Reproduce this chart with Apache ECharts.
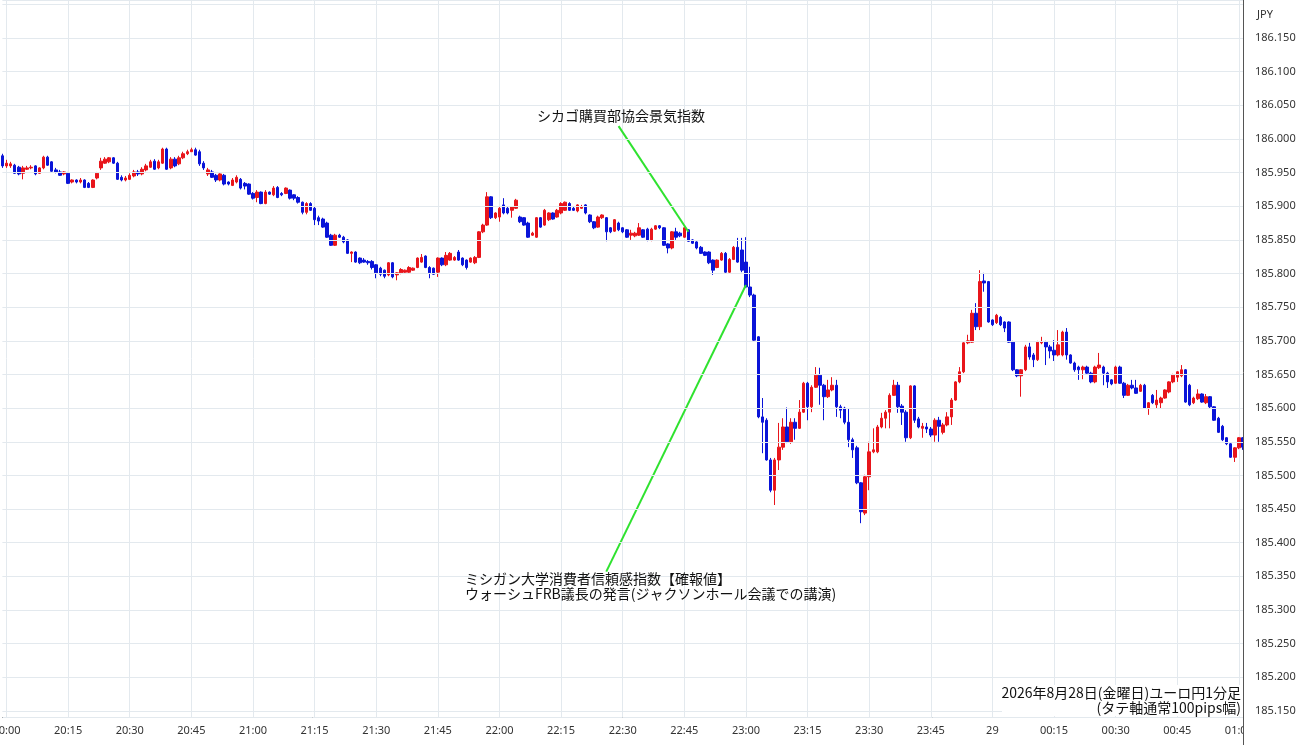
<!DOCTYPE html>
<html><head><meta charset="utf-8">
<script src="https://cdn.jsdelivr.net/npm/echarts@6/dist/echarts.min.js"></script>
<style>html,body{margin:0;padding:0;background:#fff}#c{width:1300px;height:745px}</style>
</head><body><div id="c"></div>
<script>
// 1-minute EUR/JPY candles, first candle 19:59
const startTime = '19:59';
const opens = [185.975,185.960,185.960,185.961,185.958,185.949,185.955,185.957,185.960,185.949,185.957,185.973,185.966,185.954,185.951,185.948,185.949,185.936,185.939,185.936,185.939,185.934,185.928,185.942,185.957,185.964,185.966,185.972,185.964,185.943,185.939,185.940,185.945,185.951,185.948,185.954,185.958,185.967,185.957,185.964,185.985,185.957,185.970,185.963,185.972,185.978,185.981,185.984,185.981,185.964,185.948,185.951,185.946,185.939,185.946,185.936,185.931,185.936,185.940,185.934,185.933,185.919,185.913,185.921,185.904,185.921,185.917,185.928,185.919,185.919,185.924,185.917,185.913,185.906,185.891,185.904,185.897,185.883,185.881,185.875,185.857,185.842,185.857,185.854,185.850,185.830,185.832,185.823,185.820,185.818,185.818,185.813,185.808,185.805,185.798,185.816,185.798,185.801,185.802,185.802,185.805,185.809,185.817,185.826,185.809,185.808,185.802,185.823,185.813,185.820,185.820,185.832,185.823,185.820,185.817,185.816,185.824,185.862,185.872,185.914,185.883,185.884,185.902,185.897,185.894,185.897,185.884,185.883,185.875,185.857,185.854,185.883,185.872,185.880,185.890,185.884,185.890,185.894,185.904,185.897,185.893,185.897,185.902,185.887,185.877,185.869,185.883,185.883,185.868,185.863,185.875,185.868,185.865,185.857,185.856,185.857,185.865,185.866,185.850,185.866,185.871,185.868,185.844,185.838,185.862,185.860,185.854,185.865,185.850,185.847,185.839,185.832,185.832,185.820,185.809,185.820,185.830,185.802,185.821,185.839,185.835,185.817,185.780,185.768,185.706,185.587,185.582,185.523,185.478,185.523,185.542,185.572,185.550,185.579,185.570,185.594,185.637,185.602,185.631,185.649,185.634,185.617,185.627,185.634,185.602,185.600,185.579,185.553,185.541,185.489,185.444,185.498,185.535,185.535,185.572,185.585,185.594,185.619,185.634,185.603,185.594,185.556,185.633,185.584,185.570,185.572,185.569,185.560,185.582,185.564,185.575,185.587,185.612,185.639,185.654,185.697,185.698,185.741,185.721,185.789,185.788,185.731,185.727,185.735,185.728,185.728,185.698,185.657,185.648,185.657,185.691,185.679,185.672,185.697,185.698,185.691,185.686,185.679,185.679,185.713,185.679,185.667,185.661,185.657,185.661,185.652,185.639,185.660,185.661,185.652,185.642,185.637,185.661,185.637,185.619,185.634,185.630,185.625,185.634,185.600,185.619,185.605,185.608,185.615,185.624,185.639,185.646,185.648,185.657,185.634,185.608,185.614,185.621,185.608,185.617,185.602,185.585,185.573,185.556,185.547,185.527,185.541,185.556];
const closes = [185.960,185.964,185.963,185.949,185.948,185.957,185.957,185.958,185.948,185.957,185.973,185.961,185.952,185.951,185.946,185.951,185.934,185.939,185.936,185.939,185.928,185.928,185.939,185.949,185.967,185.970,185.972,185.964,185.940,185.939,185.942,185.946,185.951,185.948,185.955,185.960,185.966,185.955,185.966,185.985,185.955,185.970,185.960,185.972,185.978,185.981,185.984,185.976,185.963,185.957,185.954,185.943,185.939,185.948,185.933,185.933,185.939,185.943,185.927,185.930,185.918,185.912,185.921,185.904,185.921,185.918,185.927,185.913,185.917,185.927,185.912,185.912,185.906,185.891,185.904,185.894,185.880,185.878,185.869,185.854,185.842,185.857,185.854,185.847,185.830,185.832,185.817,185.816,185.817,185.816,185.809,185.801,185.799,185.796,185.816,185.795,185.801,185.806,185.805,185.809,185.808,185.823,185.824,185.809,185.801,185.799,185.823,185.813,185.827,185.830,185.824,185.820,185.813,185.809,185.823,185.824,185.862,185.872,185.914,185.883,185.890,185.897,185.890,185.890,185.899,185.909,185.877,185.872,185.854,185.860,185.883,185.869,185.894,185.890,185.881,185.894,185.904,185.906,185.894,185.894,185.902,185.899,185.890,185.877,185.868,185.884,185.887,185.862,185.862,185.880,185.865,185.862,185.854,185.860,185.860,185.868,185.854,185.850,185.866,185.871,185.868,185.842,185.838,185.862,185.854,185.856,185.868,185.848,185.845,185.838,185.830,185.827,185.816,185.805,185.820,185.830,185.802,185.821,185.839,185.817,185.805,185.780,185.768,185.701,185.587,185.579,185.523,185.478,185.523,185.542,185.572,185.550,185.579,185.570,185.594,185.637,185.602,185.631,185.649,185.634,185.617,185.627,185.634,185.602,185.597,185.579,185.553,185.538,185.489,185.446,185.498,185.535,185.538,185.572,185.585,185.594,185.619,185.634,185.602,185.594,185.556,185.633,185.582,185.572,185.573,185.569,185.560,185.582,185.573,185.575,185.587,185.612,185.639,185.654,185.697,185.700,185.741,185.721,185.788,185.786,185.728,185.724,185.738,185.724,185.719,185.698,185.657,185.648,185.657,185.691,185.676,185.672,185.698,185.698,185.691,185.685,185.679,185.694,185.713,185.679,185.667,185.657,185.657,185.661,185.652,185.639,185.661,185.664,185.652,185.639,185.636,185.661,185.637,185.619,185.634,185.630,185.622,185.634,185.600,185.608,185.608,185.612,185.615,185.627,185.639,185.649,185.654,185.657,185.609,185.605,185.615,185.621,185.609,185.617,185.602,185.582,185.564,185.553,185.547,185.527,185.541,185.556,185.542];
const lows = [185.957,185.957,185.957,185.948,185.946,185.940,185.954,185.955,185.946,185.948,185.955,185.960,185.951,185.949,185.945,185.946,185.933,185.934,185.934,185.934,185.927,185.927,185.927,185.940,185.954,185.963,185.964,185.963,185.939,185.937,185.937,185.939,185.943,185.945,185.946,185.952,185.957,185.954,185.955,185.963,185.954,185.955,185.958,185.961,185.970,185.976,185.981,185.975,185.960,185.954,185.945,185.942,185.936,185.937,185.931,185.931,185.930,185.934,185.925,185.925,185.917,185.910,185.906,185.903,185.903,185.917,185.915,185.912,185.915,185.918,185.910,185.909,185.904,185.888,185.888,185.893,185.872,185.872,185.868,185.853,185.841,185.841,185.853,185.845,185.829,185.817,185.816,185.814,185.816,185.813,185.806,185.793,185.796,185.793,185.796,185.793,185.790,185.799,185.801,185.801,185.804,185.808,185.816,185.808,185.793,185.798,185.795,185.811,185.811,185.819,185.819,185.819,185.811,185.806,185.816,185.814,185.823,185.860,185.871,185.881,185.881,185.877,185.888,185.888,185.883,185.896,185.875,185.871,185.853,185.856,185.853,185.868,185.871,185.878,185.880,185.883,185.888,185.893,185.893,185.893,185.891,185.896,185.888,185.875,185.866,185.868,185.881,185.848,185.860,185.862,185.863,185.860,185.853,185.850,185.854,185.856,185.853,185.848,185.848,185.865,185.866,185.841,185.830,185.836,185.850,185.854,185.853,185.847,185.844,185.836,185.829,185.826,185.814,185.798,185.808,185.819,185.801,185.801,185.820,185.816,185.802,185.779,185.765,185.700,185.585,185.533,185.522,185.475,185.456,185.508,185.538,185.548,185.547,185.553,185.569,185.593,185.582,185.594,185.630,185.605,185.582,185.615,185.625,185.587,185.585,185.576,185.542,185.526,185.487,185.429,185.441,185.478,185.533,185.533,185.570,185.570,185.570,185.618,185.593,185.575,185.550,185.554,185.578,185.570,185.556,185.563,185.557,185.550,185.550,185.561,185.573,185.575,185.611,185.637,185.652,185.695,185.697,185.716,185.716,185.773,185.727,185.722,185.725,185.722,185.713,185.697,185.655,185.646,185.617,185.655,185.672,185.661,185.670,185.695,185.664,185.674,185.670,185.677,185.677,185.672,185.666,185.654,185.642,185.643,185.651,185.637,185.637,185.658,185.634,185.630,185.634,185.636,185.636,185.615,185.618,185.628,185.621,185.624,185.599,185.590,185.606,185.600,185.600,185.614,185.622,185.637,185.639,185.646,185.608,185.603,185.606,185.612,185.608,185.606,185.599,185.581,185.563,185.551,185.545,185.526,185.520,185.539,185.538];
const highs = [185.978,185.969,185.966,185.963,185.960,185.960,185.960,185.961,185.961,185.958,185.975,185.975,185.967,185.957,185.954,185.952,185.951,185.940,185.940,185.942,185.940,185.936,185.940,185.951,185.972,185.973,185.973,185.973,185.966,185.946,185.945,185.949,185.954,185.954,185.958,185.963,185.969,185.970,185.969,185.987,185.987,185.973,185.973,185.975,185.981,185.984,185.987,185.987,185.984,185.967,185.957,185.954,185.948,185.949,185.948,185.937,185.942,185.946,185.942,185.936,185.934,185.921,185.924,185.922,185.924,185.922,185.930,185.930,185.921,185.928,185.925,185.918,185.915,185.907,185.906,185.906,185.899,185.886,185.883,185.877,185.859,185.859,185.859,185.856,185.851,185.833,185.833,185.824,185.823,185.820,185.820,185.814,185.810,185.806,185.817,185.817,185.802,185.808,185.806,185.811,185.809,185.824,185.829,185.827,185.811,185.809,185.824,185.824,185.832,185.832,185.826,185.835,185.824,185.821,185.824,185.826,185.863,185.874,185.921,185.915,185.891,185.899,185.912,185.899,185.900,185.911,185.886,185.884,185.877,185.862,185.884,185.884,185.896,185.891,185.891,185.896,185.906,185.907,185.906,185.899,185.903,185.902,185.903,185.888,185.878,185.886,185.888,185.884,185.869,185.881,185.877,185.869,185.866,185.865,185.862,185.875,185.866,185.868,185.868,185.872,185.872,185.869,185.845,185.863,185.868,185.862,185.869,185.866,185.851,185.848,185.841,185.833,185.833,185.821,185.821,185.832,185.832,185.823,185.841,185.853,185.853,185.854,185.810,185.770,185.707,185.615,185.585,185.526,185.526,185.578,185.585,185.601,185.585,185.585,185.612,185.639,185.639,185.634,185.661,185.660,185.636,185.642,185.646,185.642,185.605,185.602,185.600,185.556,185.544,185.490,185.501,185.550,185.570,185.575,185.593,185.597,185.622,185.642,185.639,185.606,185.597,185.634,185.634,185.587,185.578,185.578,185.572,185.585,185.587,185.578,185.594,185.615,185.640,185.661,185.698,185.709,185.746,185.756,185.805,185.801,185.789,185.732,185.740,185.737,185.729,185.729,185.700,185.658,185.658,185.694,185.697,185.682,185.700,185.706,185.700,185.694,185.701,185.716,185.715,185.719,185.680,185.669,185.663,185.663,185.663,185.654,185.663,185.682,185.663,185.654,185.643,185.663,185.663,185.639,185.636,185.642,185.642,185.636,185.636,185.609,185.621,185.627,185.617,185.628,185.640,185.651,185.655,185.664,185.658,185.636,185.617,185.628,185.622,185.621,185.618,185.603,185.587,185.575,185.557,185.548,185.542,185.557,185.557];

const tickTimes  = ['20:00','20:15','20:30','20:45','21:00','21:15','21:30','21:45','22:00','22:15','22:30','22:45','23:00','23:15','23:30','23:45','00:00','00:15','00:30','00:45','01:00'];
const tickLabels = ['20:00','20:15','20:30','20:45','21:00','21:15','21:30','21:45','22:00','22:15','22:30','22:45','23:00','23:15','23:30','23:45','29','00:15','00:30','00:45','01:00'];
const yMin = 185.141, yMax = 186.2065;
const yLabelFirst = 185.150, yLabelLast = 186.150;

// annotation leader lines: [category index, price]
const leader1 = [[150.4, 186.019], [166.5, 185.862]];
const leader2 = [[146.7, 185.357], [180.8, 185.783]];
const note1 = 'シカゴ購買部協会景気指数';
const note2 = ['ミシガン大学消費者信頼感指数【確報値】', 'ウォーシュFRB議長の発言(ジャクソンホール会議での講演)'];
const caption = ['2026年8月28日(金曜日)ユーロ円1分足', '(タテ軸通常100pips幅)'];
const unitLabel = 'JPY';

// build categories
const times = [];
{
  const [h0, m0] = startTime.split(':').map(Number);
  for (let i = 0; i < opens.length; i++) {
    const t = (h0 * 60 + m0 + i) % 1440;
    times.push(String(Math.floor(t / 60)).padStart(2, '0') + ':' + String(t % 60).padStart(2, '0'));
  }
}
const candles = opens.map((o, i) => [o, closes[i], lows[i], highs[i]]);
const tickSet = new Set(tickTimes);
const labelOf = {};
tickTimes.forEach((t, i) => labelOf[t] = tickLabels[i]);

const RED = '#e8151b', BLUE = '#0a14d8';
const GRID = '#e3e9ee';
const AXIS = '#555';
const FONT = '"Noto Sans CJK JP", "Noto Sans", sans-serif';

const chart = echarts.init(document.getElementById('c'), null, {renderer: 'canvas'});
chart.setOption({
  animation: false,
  backgroundColor: '#fff',
  grid: {left: 2.4, right: 57, top: 0, bottom: 28, containLabel: false, outerBoundsMode: 'none'},
  xAxis: {
    type: 'category', data: times, boundaryGap: false, z: 1,
    axisLine: {show: true, lineStyle: {color: AXIS, width: 1}},
    axisTick: {show: false},
    axisLabel: {
      interval: (i, v) => tickSet.has(v),
      formatter: v => labelOf[v] || '',
      color: '#333', fontSize: 11, fontFamily: '"Noto Sans", sans-serif', margin: 8
    },
    splitLine: {show: true, interval: (i, v) => tickSet.has(v), lineStyle: {color: GRID, width: 1}}
  },
  yAxis: {
    type: 'value', position: 'right', min: yMin, max: yMax, splitNumber: 21, z: 10,
    axisLine: {show: false}, axisTick: {show: false},
    axisLabel: {
      color: '#333', fontSize: 11, fontFamily: '"Noto Sans", sans-serif', margin: 12, align: 'left',
      formatter: v => {
        const r = Math.round(v * 20) / 20;
        if (Math.abs(r - v) > 1e-6 || r < yLabelFirst - 1e-6 || r > yLabelLast + 1e-6) return '';
        return r.toFixed(3);
      }
    },
    splitLine: {show: true, lineStyle: {color: GRID, width: 1}}
  },
  series: [{
    type: 'candlestick',
    data: candles,
    barWidth: 3,
    itemStyle: {color: RED, color0: BLUE, borderColor: RED, borderColor0: BLUE, borderWidth: 1},
    markLine: {
      silent: true, symbol: ['none', 'none'], animation: false,
      label: {show: false},
      lineStyle: {color: '#2fe22f', width: 2, type: 'solid'},
      emphasis: {disabled: true},
      data: [
        [{coord: leader1[0]}, {coord: leader1[1]}],
        [{coord: leader2[0]}, {coord: leader2[1]}]
      ]
    }
  }],
  graphic: [
    {type: 'rect', z: 5, shape: {x: 1244, y: 0, width: 56, height: 745}, style: {fill: '#fff'}},
    {type: 'line', z: 20, shape: {x1: 1243.5, y1: 0, x2: 1243.5, y2: 745}, style: {stroke: AXIS, lineWidth: 1}},
    {type: 'text', z: 20, x: 1257, y: 15, style: {text: unitLabel, font: '11px "Noto Sans", sans-serif', fill: '#333', verticalAlign: 'middle'}},
    {type: 'text', z: 20, x: 621, y: 116, style: {text: note1, font: '14px ' + FONT, fill: '#111', align: 'center', verticalAlign: 'middle'}},
    {type: 'text', z: 20, x: 465, y: 579, style: {text: note2[0], font: '14px ' + FONT, fill: '#111', verticalAlign: 'middle'}},
    {type: 'text', z: 20, x: 465, y: 594, style: {text: note2[1], font: '14px ' + FONT, fill: '#111', verticalAlign: 'middle'}},
    {type: 'rect', z: 18, shape: {x: 1002, y: 685, width: 241, height: 31}, style: {fill: '#fff'}},
    {type: 'text', z: 20, x: 1241, y: 693, style: {text: caption[0], font: '14px ' + FONT, fill: '#111', align: 'right', verticalAlign: 'middle'}},
    {type: 'text', z: 20, x: 1241, y: 708, style: {text: caption[1], font: '14px ' + FONT, fill: '#111', align: 'right', verticalAlign: 'middle'}}
  ]
});
</script></body></html>
